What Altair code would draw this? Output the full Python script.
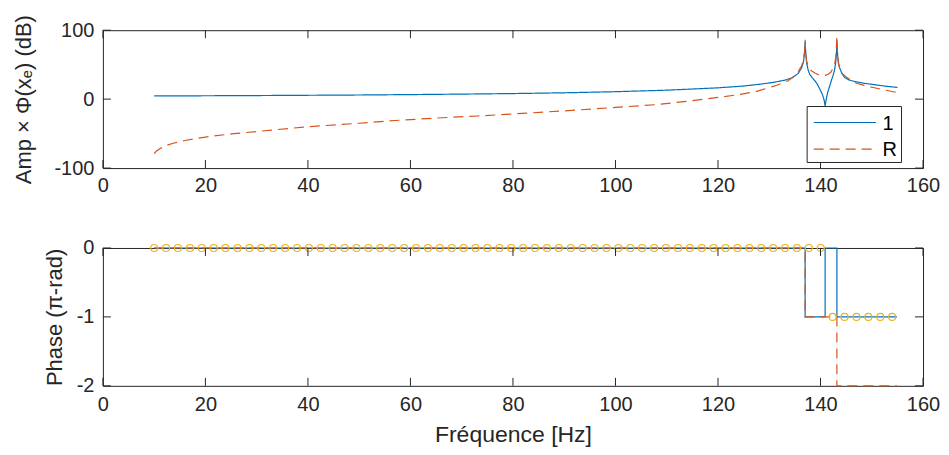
import altair as alt
import pandas as pd

# ---------------- data ----------------
# amplitude, series "1" (solid blue)
freq_1 = [10, 20, 30, 40, 50, 60, 70, 80, 90, 100, 110, 120, 125, 128, 131, 133,
          134.5, 135.6, 136.3, 136.7, 136.9, 137.0, 137.1, 137.3, 137.6, 137.9,
          138.4, 138.9, 139.4, 139.7, 140.1, 140.4, 140.7, 140.9, 141.1, 141.4,
          141.8, 142.1, 142.4, 142.7, 142.95, 143.1, 143.2, 143.3, 143.45, 143.7,
          144.2, 144.7, 145.5, 146.6, 148.5, 150.5, 153, 155]
amp_1 = [4.6, 4.9, 5.2, 5.6, 6.0, 6.6, 7.3, 8.1, 9.2, 10.8, 13.0, 16.4, 19.0, 21.5, 24.5, 27.5,
         31.0, 37.0, 45.0, 55.0, 68.0, 84.0, 70.0, 52.0, 42.0, 36.0,
         31.0, 26.7, 21.5, 17.0, 11.0, 6.0, -1.0, -10.0, -1.0, 10.0,
         19.0, 26.7, 33.0, 41.0, 52.0, 66.0, 86.0, 68.0, 55.0, 46.0,
         37.0, 31.5, 28.0, 25.7, 23.0, 21.0, 18.5, 17.0]

# amplitude, series "R" (dashed orange)
freq_R = [10, 10.5, 11.1, 12, 13.7, 16, 20, 25, 30, 40, 50, 57, 65, 73, 80, 90,
          100, 108, 114, 120, 124, 127.3, 131.2, 133.7, 135.3, 136.3, 136.7, 136.9,
          137.0, 137.1, 137.3, 137.6, 138.2, 138.9, 139.6, 140.2, 140.9, 141.5,
          142.0, 142.4, 142.8, 143.0, 143.2, 143.3, 143.5, 143.8, 144.3, 145.0,
          146.6, 148.5, 150.5, 153, 155]
amp_R = [-79, -75, -72, -68, -64, -60, -55, -50.5, -47, -40, -35, -31, -27.5, -24.5, -21.5, -17,
         -12, -8, -3, 2.5, 6.5, 10.8, 19.5, 26.7, 36, 48, 58, 70,
         86, 68, 55, 47, 41, 38, 35.5, 34.5, 34.5, 36,
         39, 44, 52, 62, 90, 66, 52, 43, 37, 32,
         24, 20, 16.5, 12.5, 9.5]

# phase (pi-rad)
phase_f_1 = [10, 137.0, 137.0, 140.9, 140.9, 143.2, 143.2, 154.9]
phase_v_1 = [0, 0, -1, -1, 0, 0, -1, -1]
phase_f_R = [10, 137.0, 137.0, 143.2, 143.2, 154.9]
phase_v_R = [0, 0, -1, -1, -2, -2]
marker_f = [10.00, 12.32, 14.64, 16.97, 19.29, 21.61, 23.93, 26.26, 28.58, 30.90,
            33.22, 35.55, 37.87, 40.19, 42.51, 44.83, 47.16, 49.48, 51.80, 54.12,
            56.45, 58.77, 61.09, 63.41, 65.74, 68.06, 70.38, 72.70, 75.02, 77.35,
            79.67, 81.99, 84.31, 86.64, 88.96, 91.28, 93.60, 95.93, 98.25, 100.57,
            102.89, 105.21, 107.54, 109.86, 112.18, 114.50, 116.83, 119.15, 121.47, 123.79,
            126.12, 128.44, 130.76, 133.08, 135.40, 137.73, 140.05, 142.37, 144.69, 147.02,
            149.34, 151.66, 153.98]
marker_v = [0] * 57 + [-1] * 6

x_ticks = [0, 20, 40, 60, 80, 100, 120, 140, 160]
amp_ticks = [-100, 0, 100]
phase_ticks = [-2, -1, 0]
series_names = ["1", "R"]

# ---------------- styling ----------------
W, H = 821, 138
TICK = 8
AX = "#262626"
BLUE, ORANGE, YELLOW = "#0072BD", "#D95319", "#EDB120"
LBL, YTTL, XTTL = 20, 22, 23
DASH = [10, 6]
LABEL_EXPR = "'' + datum.value"

amp_df = pd.DataFrame({
    "f": freq_1 + freq_R,
    "a": amp_1 + amp_R,
    "s": ["1"] * len(freq_1) + ["R"] * len(freq_R),
    "i": list(range(len(freq_1))) + list(range(len(freq_R))),
})
ph1_df = pd.DataFrame({"f": phase_f_1, "p": phase_v_1, "i": range(len(phase_f_1))})
phR_df = pd.DataFrame({"f": phase_f_R, "p": phase_v_R, "i": range(len(phase_f_R))})
mk_df = pd.DataFrame({"f": marker_f, "p": marker_v})
xt_df = pd.DataFrame({"f": x_ticks})

xscale = alt.Scale(domain=[0, 160], nice=False, zero=False)
xaxis_top = alt.Axis(values=x_ticks, ticks=False, domain=False, grid=False,
                     labelPadding=7, title=None, labelExpr=LABEL_EXPR, labelFlush=False)
xaxis_bot = alt.Axis(values=x_ticks, ticks=False, domain=False, grid=False,
                     labelPadding=9, title="Fréquence [Hz]", titlePadding=9,
                     titleFontSize=XTTL, labelExpr=LABEL_EXPR, labelFlush=False)

ascale = alt.Scale(domain=[-100, 100], nice=False, zero=False)
aaxis = alt.Axis(values=amp_ticks, ticks=False, domain=False, grid=False,
                 labelPadding=9, title="Amp × Φ(xₑ) (dB)", titlePadding=18.7,
                 labelExpr=LABEL_EXPR)
pscale = alt.Scale(domain=[-2, 0], nice=False, zero=False)
paxis = alt.Axis(values=phase_ticks, ticks=False, domain=False, grid=False,
                 labelPadding=9, title="Phase (π-rad)", titlePadding=10,
                 labelExpr=LABEL_EXPR)


def tick_layers(xaxis, yfield, yscale, yaxis, yvals):
    xt = alt.Chart(xt_df).mark_rule(color=AX, strokeWidth=1)
    yt = alt.Chart(pd.DataFrame({yfield: yvals})).mark_rule(color=AX, strokeWidth=1)
    X = alt.X("f:Q", scale=xscale, axis=xaxis)
    Y = alt.Y(f"{yfield}:Q", scale=yscale, axis=yaxis)
    return [
        xt.encode(x=X, y=alt.value(0), y2=alt.value(TICK)),
        xt.encode(x=X, y=alt.value(H - TICK), y2=alt.value(H)),
        yt.encode(y=Y, x=alt.value(0), x2=alt.value(TICK)),
        yt.encode(y=Y, x=alt.value(W - TICK), x2=alt.value(W)),
    ]


amp_lines = alt.Chart(amp_df).mark_line(strokeWidth=1.2).encode(
    x=alt.X("f:Q", scale=xscale, axis=xaxis_top),
    y=alt.Y("a:Q", scale=ascale, axis=aaxis),
    color=alt.Color("s:N", scale=alt.Scale(domain=series_names, range=[BLUE, ORANGE]), legend=None),
    strokeDash=alt.StrokeDash("s:N", scale=alt.Scale(domain=series_names, range=[[1, 0], DASH]), legend=None),
    order="i:Q",
)

# legend box drawn inside the top panel (bottom-right), placed from the right edge
LX0, LX1, LY0, LY1 = W - 116.0, W - 21.5, 76.4, 132.4
SX0, SX1, TX = W - 109.5, W - 47.0, W - 40.5
ROW_Y = [92.4, 119.0]
box = alt.Chart(pd.DataFrame({"s": ["legend"]})).mark_rect(
    fill="white", stroke=AX, strokeWidth=1
).encode(x=alt.value(LX0), x2=alt.value(LX1), y=alt.value(LY0), y2=alt.value(LY1))
leg_layers = [box]
for k, (name, col) in enumerate(zip(series_names, [BLUE, ORANGE])):
    d = pd.DataFrame({"s": [name]})
    rule_kw = dict(color=col, strokeWidth=1.2)
    if k == 1:
        rule_kw["strokeDash"] = DASH
    leg_layers.append(alt.Chart(d).mark_rule(**rule_kw).encode(
        x=alt.value(SX0), x2=alt.value(SX1), y=alt.value(ROW_Y[k])))
    leg_layers.append(alt.Chart(d).mark_text(
        align="left", baseline="middle", fontSize=LBL, color="black", font="Liberation Sans"
    ).encode(x=alt.value(TX), y=alt.value(ROW_Y[k] + 1), text="s:N"))

top = alt.layer(amp_lines, *tick_layers(xaxis_top, "a", ascale, aaxis, amp_ticks),
                *leg_layers).properties(width=W, height=H)

X_b = alt.X("f:Q", scale=xscale, axis=xaxis_bot)
Y_b = alt.Y("p:Q", scale=pscale, axis=paxis)
ph1 = alt.Chart(ph1_df).mark_line(color=BLUE, strokeWidth=1.2).encode(x=X_b, y=Y_b, order="i:Q")
phR = alt.Chart(phR_df).mark_line(color=ORANGE, strokeWidth=1.2, strokeDash=DASH).encode(x=X_b, y=Y_b, order="i:Q")
mk = alt.Chart(mk_df).mark_point(shape="circle", filled=False, size=49, color=YELLOW,
                                 strokeWidth=1.2, opacity=1).encode(x=X_b, y=Y_b)

bottom = alt.layer(ph1, phR, mk, *tick_layers(xaxis_bot, "p", pscale, paxis, phase_ticks)).properties(width=W, height=H)

chart = alt.vconcat(top, bottom, spacing=41).properties(
    padding={"left": 3, "top": 5, "right": 0, "bottom": 0}
).configure(
    font="Liberation Sans"
).configure_view(
    stroke=AX, strokeWidth=1
).configure_axis(
    labelFontSize=LBL, titleFontSize=YTTL, labelColor=AX, titleColor=AX,
    titleFontWeight="normal", labelFont="Liberation Sans", titleFont="Liberation Sans",
)

chart.save("out.html", embed_options={"renderer": "svg", "actions": False})
